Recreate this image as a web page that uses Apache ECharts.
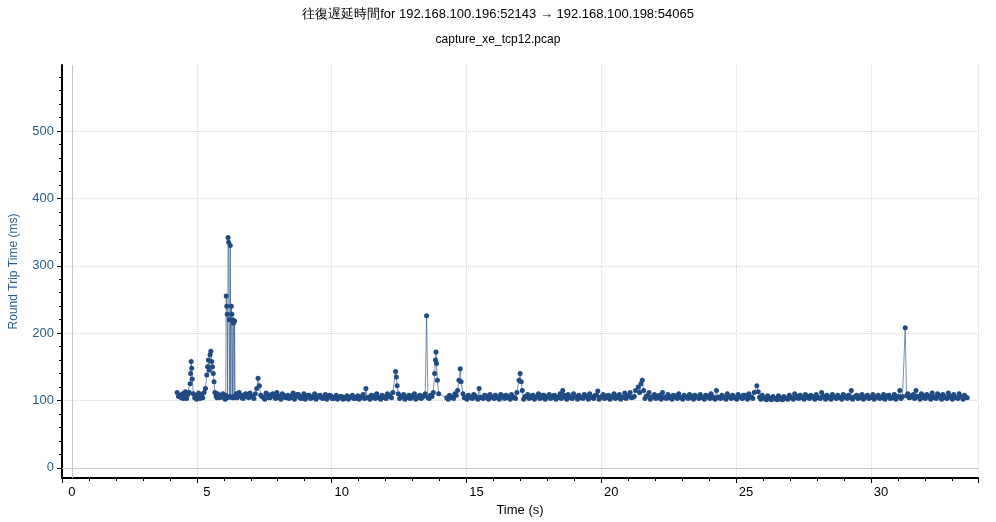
<!DOCTYPE html>
<html>
<head>
<meta charset="utf-8">
<script src="https://cdn.jsdelivr.net/npm/echarts@6/dist/echarts.min.js"></script>
<style>html,body{margin:0;padding:0;background:#fff}#main{width:996px;height:522px}</style>
</head>
<body>
<div id="main"></div>
<script>
// 标题
var titleText = '往復遅延時間for 192.168.100.196:52143 → 192.168.100.198:54065';
var subText = 'capture_xe_tcp12.pcap';
var xTicks = [0, 5, 10, 15, 20, 25, 30];
var yTicks = [0, 100, 200, 300, 400, 500];

// 读取的样本 [时间 s, RTT ms]
var rttPoints = [
  [3.9,112],[4.0,108],[4.05,104],[4.1,110],[4.15,106],[4.2,113],[4.25,103],[4.3,109],[4.35,112],[4.38,125],
  [4.4,140],[4.42,158],[4.44,148],[4.46,132],[4.5,110],[4.55,104],[4.6,108],[4.65,105],[4.7,111],[4.75,103],
  [4.8,107],[4.85,104],[4.9,112],[4.95,118],[5.0,138],[5.03,150],[5.06,160],[5.09,145],[5.12,168],[5.15,173],
  [5.18,158],[5.21,150],[5.24,140],[5.27,128],[5.3,112],[5.35,106],[5.4,110],[5.45,104],[5.5,108],[5.55,105],
  [5.6,110],[5.65,104],[5.7,108],[5.72,255],[5.74,240],[5.76,228],[5.77,104],[5.79,342],[5.81,335],[5.83,220],
  [5.85,106],[5.87,330],[5.89,105],[5.91,240],[5.93,228],[5.95,104],[5.97,220],[5.99,215],[6.01,106],[6.03,218],
  [6.05,104],[6.1,110],[6.15,106],[6.2,112],[6.3,104],[6.4,109],[6.5,106],[6.6,111],[6.7,105],[6.8,110],
  [6.85,118],[6.9,133],[6.95,122],[7.0,108],[7.1,105],[7.2,111],[7.3,104],[7.4,109],[7.5,106],[7.6,112],
  [7.7,104],[7.8,110],[7.9,105],[8.0,108],[8.1,104],[8.2,111],[8.3,106],[8.4,109],[8.5,103],[8.6,110],
  [8.7,105],[8.8,108],[8.9,104],[9.0,110],[9.1,105],[9.2,108],[9.3,103],[9.4,109],[9.5,105],[9.6,107],
  [9.7,103],[9.8,108],[9.9,104],[10.0,106],[10.1,103],[10.2,107],[10.3,104],[10.4,108],[10.5,103],[10.6,107],
  [10.7,104],[10.8,109],[10.9,118],[11.0,105],[11.1,108],[11.2,104],[11.3,110],[11.4,105],[11.5,108],[11.6,104],
  [11.7,110],[11.8,106],[11.9,112],[12.0,143],[12.03,135],[12.06,122],[12.1,110],[12.2,105],[12.3,109],[12.4,104],
  [12.5,108],[12.6,105],[12.7,110],[12.8,104],[12.9,108],[13.0,105],[13.1,110],[13.15,226],[13.2,104],[13.3,108],
  [13.4,112],[13.45,140],[13.48,160],[13.5,172],[13.52,155],[13.55,130],[13.6,110],[13.9,104],[14.0,108],[14.1,104],
  [14.2,110],[14.3,115],[14.35,130],[14.4,147],[14.43,128],[14.5,110],[14.6,105],[14.7,108],[14.8,104],[14.9,109],
  [15.0,105],[15.1,118],[15.2,104],[15.3,108],[15.4,104],[15.5,109],[15.6,105],[15.7,108],[15.8,104],[15.9,109],
  [16.0,105],[16.1,108],[16.2,104],[16.3,109],[16.4,105],[16.5,112],[16.58,130],[16.62,140],[16.66,128],[16.7,115],
  [16.8,106],[16.9,109],[17.0,104],[17.1,108],[17.2,105],[17.3,110],[17.4,104],[17.5,108],[17.6,105],[17.7,109],
  [17.8,104],[17.9,108],[18.0,105],[18.1,110],[18.2,115],[18.3,105],[18.4,109],[18.5,104],[18.6,110],[18.7,105],
  [18.8,108],[18.9,104],[19.0,109],[19.1,105],[19.2,110],[19.3,104],[19.4,108],[19.5,114],[19.6,105],[19.7,109],
  [19.8,104],[19.9,108],[20.0,105],[20.1,110],[20.2,104],[20.3,109],[20.4,105],[20.5,111],[20.6,106],[20.7,112],
  [20.8,105],[20.9,115],[21.0,120],[21.05,112],[21.1,125],[21.15,130],[21.2,115],[21.3,106],[21.4,112],[21.5,105],
  [21.6,109],[21.7,104],[21.8,108],[21.9,112],[22.0,105],[22.1,109],[22.2,104],[22.3,108],[22.4,105],[22.5,110],
  [22.6,104],[22.7,108],[22.8,105],[22.9,109],[23.0,104],[23.1,108],[23.2,105],[23.3,109],[23.4,104],[23.5,108],
  [23.6,105],[23.7,110],[23.8,104],[23.9,115],[24.0,105],[24.1,108],[24.2,104],[24.3,110],[24.4,105],[24.5,108],
  [24.6,104],[24.7,109],[24.8,105],[24.9,108],[25.0,104],[25.1,110],[25.2,105],[25.3,112],[25.4,122],[25.45,113],
  [25.5,105],[25.6,108],[25.7,103],[25.8,107],[25.9,102],[26.0,106],[26.1,103],[26.2,107],[26.3,102],[26.4,106],
  [26.5,103],[26.6,108],[26.7,104],[26.8,110],[26.9,104],[27.0,108],[27.1,104],[27.2,109],[27.3,104],[27.4,108],
  [27.5,105],[27.6,109],[27.7,104],[27.8,112],[27.9,105],[28.0,108],[28.1,104],[28.2,109],[28.3,105],[28.4,108],
  [28.5,104],[28.6,109],[28.7,105],[28.8,108],[28.9,115],[29.0,105],[29.1,108],[29.2,104],[29.3,109],[29.4,105],
  [29.5,108],[29.6,104],[29.7,109],[29.8,105],[29.9,108],[30.0,104],[30.1,109],[30.2,105],[30.3,108],[30.4,104],
  [30.5,109],[30.6,105],[30.7,115],[30.8,106],[30.9,208],[30.95,107],[31.0,110],[31.1,105],[31.2,109],[31.3,115],
  [31.4,106],[31.5,110],[31.6,104],[31.7,109],[31.8,105],[31.9,111],[32.0,104],[32.1,110],[32.2,105],[32.3,109],
  [32.4,104],[32.5,111],[32.6,105],[32.7,109],[32.8,104],[32.9,110],[33.0,105],[33.1,108],[33.2,104]
];

// 基线带的补充样本（与上面交错），时间 s
var baseTimes = [3.95,4.12,4.28,4.62,4.78,5.38,5.52,5.68,6.12,6.25,6.35,6.45,6.55,6.65,6.75,7.05,7.15,7.25,7.35,7.45,7.55,7.65,7.75,7.85,7.95,
  8.05,8.15,8.25,8.35,8.45,8.55,8.65,8.75,8.85,8.95,9.05,9.15,9.25,9.35,9.45,9.55,9.65,9.75,9.85,9.95,10.05,10.15,10.25,10.35,10.45,10.55,10.65,10.75,10.85,
  10.95,11.05,11.15,11.25,11.35,11.45,11.55,11.65,11.75,11.85,12.15,12.25,12.35,12.45,12.55,12.65,12.75,12.85,12.95,13.05,13.25,13.35,13.95,14.05,14.15,14.25,
  14.55,14.65,14.75,14.85,14.95,15.05,15.15,15.25,15.35,15.45,15.55,15.65,15.75,15.85,15.95,16.05,16.15,16.25,16.35,16.45,16.75,16.85,16.95,17.05,17.15,17.25,
  17.35,17.45,17.55,17.65,17.75,17.85,17.95,18.05,18.15,18.25,18.35,18.45,18.55,18.65,18.75,18.85,18.95,19.05,19.15,19.25,19.35,19.45,19.55,19.65,19.75,19.85,
  19.95,20.05,20.15,20.25,20.35,20.45,20.55,20.65,20.75,20.85,21.25,21.35,21.45,21.55,21.65,21.75,21.85,21.95,22.05,22.15,22.25,22.35,22.45,22.55,22.65,22.75,
  22.85,22.95,23.05,23.15,23.25,23.35,23.45,23.55,23.65,23.75,23.85,23.95,24.05,24.15,24.25,24.35,24.45,24.55,24.65,24.75,24.85,24.95,25.05,25.15,25.25,25.55,
  25.65,25.75,25.85,25.95,26.05,26.15,26.25,26.35,26.45,26.55,26.65,26.75,26.85,26.95,27.05,27.15,27.25,27.35,27.45,27.55,27.65,27.75,27.85,27.95,28.05,28.15,
  28.25,28.35,28.45,28.55,28.65,28.75,28.85,28.95,29.05,29.15,29.25,29.35,29.45,29.55,29.65,29.75,29.85,29.95,30.05,30.15,30.25,30.35,30.45,30.55,30.65,30.75,
  31.05,31.15,31.25,31.35,31.45,31.55,31.65,31.75,31.85,31.95,32.05,32.15,32.25,32.35,32.45,32.55,32.65,32.75,32.85,32.95,33.05,33.15];
var baseRtt = [106,103,111,102,109,104,107,102,104,108,103,110,104,107,103,106,102,109,104,110,103,107,102,108,104,
  103,107,102,109,104,106,102,108,103,106,102,107,104,106,102,108,103,105,102,106,102,105,102,106,103,105,102,106,103,
  104,102,107,103,105,102,106,103,108,104,103,107,102,106,103,108,102,106,103,107,103,106,102,106,103,108,
  104,102,106,103,107,102,105,103,107,102,106,103,105,102,107,103,106,102,105,103,102,106,103,107,102,106,
  103,108,102,106,103,107,102,105,103,108,102,106,103,107,102,105,103,107,102,106,103,108,102,106,103,107,
  102,106,103,107,102,105,103,108,104,106,103,108,102,106,103,107,102,105,103,106,102,107,103,105,102,106,
  103,107,102,106,103,105,102,107,103,106,102,105,103,106,102,107,103,105,102,106,103,108,102,106,103,102,
  104,101,104,101,103,101,104,101,103,102,105,102,107,103,106,102,107,103,106,102,105,103,107,102,105,102,
  106,103,105,102,107,103,105,102,106,103,107,102,106,103,105,102,106,103,105,102,107,103,105,102,106,103,
  104,107,103,106,102,108,103,107,102,106,103,108,102,106,103,107,102,105,103,106,102,105];

var basePoints = baseTimes.map(function (t, i) { return [t, baseRtt[i]]; });
var allPoints = rttPoints.concat(basePoints).sort(function (a, b) { return a[0] - b[0]; });

var myChart = echarts.init(document.getElementById('main'));
var font = 'Liberation Sans';
var blue = '#2a5d8c';
option = {
    animation: false,
    title: [
        { text: titleText, left: 'center', top: 3, textStyle: { fontSize: 13, fontWeight: 'normal', color: '#000', fontFamily: font } },
        { text: subText, left: 'center', top: 29, textStyle: { fontSize: 12, fontWeight: 'normal', color: '#000', fontFamily: font } }
    ],
    grid: { left: 61, right: 18, top: 65, bottom: 44, containLabel: false },
    xAxis: {
        type: 'value', min: -0.37, max: 33.6, interval: 5,
        name: 'Time (s)', nameLocation: 'middle', nameGap: 24,
        nameTextStyle: { color: '#000', fontSize: 13, fontFamily: font },
        axisLine: { onZero: false, lineStyle: { color: '#000', width: 2 } },
        axisTick: { show: true, length: 5, lineStyle: { color: '#000' } },
        minorTick: { show: true, splitNumber: 5, length: 3, lineStyle: { color: '#000' } },
        axisLabel: { color: '#000', fontSize: 13, fontFamily: font, customValues: xTicks },
        splitLine: { show: true, lineStyle: { type: 'dotted', color: '#d6d6d6' } }
    },
    yAxis: {
        type: 'value', min: -15, max: 598,
        name: 'Round Trip Time (ms)', nameLocation: 'middle', nameGap: 42,
        nameTextStyle: { color: blue, fontSize: 12, fontFamily: font },
        axisLine: { onZero: false, lineStyle: { color: '#000', width: 2 } },
        axisTick: { show: true, length: 5, lineStyle: { color: '#000' }, customValues: yTicks },
        minorTick: { show: true, splitNumber: 5, length: 3, lineStyle: { color: '#000' } },
        axisLabel: { color: blue, fontSize: 13, fontFamily: font, customValues: yTicks },
        splitLine: { show: true, lineStyle: { type: 'dotted', color: '#d6d6d6' }, customValues: yTicks }
    },
    series: [{
        type: 'line',
        data: allPoints,
        symbol: 'circle', symbolSize: 5,
        itemStyle: { color: '#1f4a82' },
        lineStyle: { color: 'rgba(31,74,130,0.6)', width: 1 },
        markLine: {
            silent: true, symbol: 'none', label: { show: false },
            lineStyle: { color: '#c8c8c8', type: 'solid', width: 1 },
            data: [{ xAxis: 0 }, { yAxis: 0 }]
        }
    }]
};
myChart.setOption(option);
</script>
</body>
</html>
